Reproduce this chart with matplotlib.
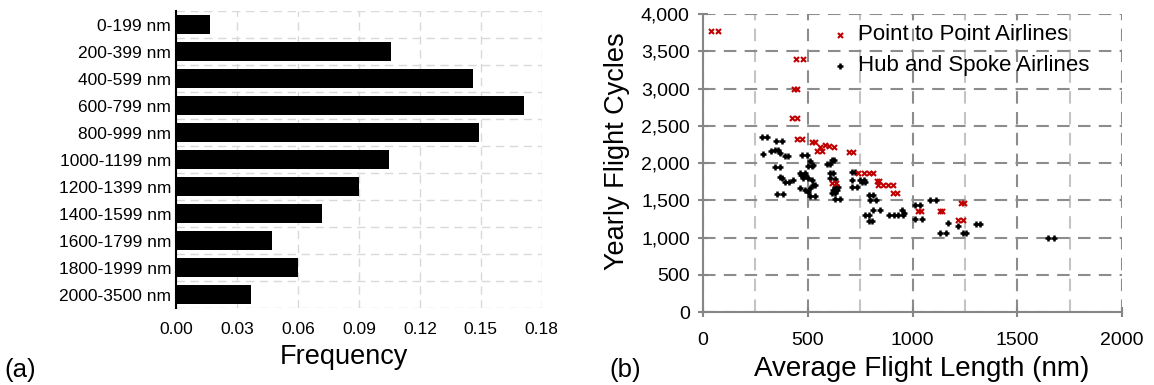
import numpy as np
import matplotlib.pyplot as plt
from matplotlib.ticker import FuncFormatter, MultipleLocator

plt.rcParams['font.family'] = ['Liberation Sans', 'DejaVu Sans']

# (a) flight length histogram
ranges = ['0-199 nm', '200-399 nm', '400-599 nm', '600-799 nm', '800-999 nm',
          '1000-1199 nm', '1200-1399 nm', '1400-1599 nm', '1600-1799 nm',
          '1800-1999 nm', '2000-3500 nm']
freq = [0.0167, 0.106, 0.146, 0.171, 0.149, 0.105, 0.090, 0.072, 0.047, 0.060, 0.037]
freq_ticks = [0.00, 0.03, 0.06, 0.09, 0.12, 0.15, 0.18]

# (b) flight length vs yearly cycles
ptp_x = [37, 73, 444, 479, 435, 450, 424, 450, 447, 471, 519, 535, 559, 583, 599, 623,
         543, 567, 699, 718, 742, 766, 790, 810, 615, 634, 830, 841, 837, 861, 885, 909,
         909, 928, 1231, 1246, 1025, 1040, 1129, 1143, 1219, 1243]
ptp_y = [3775, 3775, 3395, 3395, 2993, 2993, 2605, 2605, 2328, 2328, 2278, 2278, 2216, 2247,
         2224, 2211, 2157, 2157, 2149, 2149, 1868, 1868, 1868, 1868, 1734, 1734, 1755, 1755,
         1702, 1702, 1702, 1702, 1600, 1600, 1457, 1457, 1353, 1353, 1353, 1353, 1233, 1233]

hub_x = [283, 307, 349, 376, 323, 344, 360, 288, 368, 392, 407, 471, 495, 344, 368,
         511, 524, 503, 519, 591, 607, 615, 626, 607, 622, 463, 487, 368, 376, 468, 487,
         479, 503, 519, 392, 412, 428, 527, 463, 487, 511, 535, 503, 352, 381, 511, 535,
         622, 639, 630, 646, 615, 630, 630, 654, 607, 630, 710, 726, 710, 750, 766, 758, 774,
         710, 734, 793, 813, 798, 825, 813, 845, 774, 790, 790, 806, 890, 912, 933, 954,
         949, 957, 1013, 1036, 1084, 1111, 1013, 1044, 1167, 1129, 1159, 1216, 1240, 1256,
         1301, 1323, 1649, 1673]
hub_y = [2345, 2345, 2291, 2291, 2157, 2180, 2180, 2127, 2140, 2100, 2100, 2105, 2105, 1948, 1948,
         2033, 1979, 1966, 1966, 1988, 1988, 2046, 2046, 1868, 1868, 1868, 1868, 1809, 1801, 1845, 1845,
         1801, 1801, 1778, 1747, 1747, 1778, 1711, 1667, 1644, 1658, 1702, 1617, 1587, 1587, 1555, 1555,
         1644, 1644, 1680, 1680, 1600, 1600, 1523, 1523, 1801, 1780, 1876, 1876, 1769, 1769, 1769, 1743, 1743,
         1676, 1676, 1577, 1577, 1501, 1501, 1367, 1367, 1296, 1296, 1220, 1220, 1296, 1296, 1296, 1296,
         1367, 1332, 1443, 1443, 1510, 1510, 1242, 1242, 1198, 1064, 1064, 1153, 1064, 1064,
         1175, 1175, 997, 997]

fig = plt.figure(figsize=(11.54, 3.85), dpi=100)

# ---- left panel
ax1 = fig.add_axes([0.1525, 0.2, 0.317, 0.7714])
pos = np.arange(len(ranges))
ax1.barh(pos, freq, height=0.7, color='black', zorder=3)
ax1.set_ylim(len(ranges) - 0.5, -0.5)
ax1.set_xlim(0, 0.18)
ax1.set_xticks(freq_ticks)
ax1.set_xticklabels(['%.2f' % t for t in freq_ticks])
ax1.set_yticks(pos)
ax1.set_yticklabels(ranges)
ax1.set_yticks(np.arange(-0.5, len(ranges)), minor=True)
ax1.tick_params(axis='both', length=0, labelsize=12.5)
ax1.tick_params(axis='y', which='minor', length=0)
ax1.tick_params(axis='x', pad=10)
ax1.grid(True, axis='x', color='#d9d9d9', linestyle=(0, (6, 4)), linewidth=1, zorder=0)
ax1.grid(True, axis='y', which='minor', color='#d9d9d9', linestyle=(0, (6, 4)), linewidth=1, zorder=0)
for s in ['top', 'right', 'bottom']:
    ax1.spines[s].set_visible(False)
ax1.spines['left'].set_linewidth(1.5)
ax1.set_xlabel('Frequency', fontsize=19.5, va='center')
ax1.xaxis.set_label_coords(0.46, -0.165)
fig.text(0.004, 0.02, '(a)', fontsize=18.5)

# ---- right panel
ax2 = fig.add_axes([0.6092, 0.1896, 0.3631, 0.774])
ax2.scatter(ptp_x, ptp_y, marker='x', s=13, color='#c00000', linewidths=1.5,
            label='Point to Point Airlines', zorder=4)
ax2.scatter(hub_x, hub_y, marker='+', s=22, color='black', linewidths=1.8,
            label='Hub and Spoke Airlines', zorder=3)
ax2.set_xlim(0, 2000)
ax2.set_ylim(0, 4000)
ax2.xaxis.set_major_locator(MultipleLocator(500))
ax2.xaxis.set_minor_locator(MultipleLocator(250))
ax2.yaxis.set_major_locator(MultipleLocator(500))
ax2.yaxis.set_major_formatter(FuncFormatter(lambda v, p: '{:,.0f}'.format(v)))
ax2.grid(True, which='major', color='#8c8c8c', linestyle=(0, (6, 4)), linewidth=1.5, zorder=0)
ax2.grid(True, axis='x', which='minor', color='#c4c4c4', linestyle=(0, (6, 4)), linewidth=1.5, zorder=0)
ax2.tick_params(axis='both', which='major', direction='inout', length=7, width=1.5,
                color='#868686', labelsize=14)
ax2.tick_params(axis='x', which='minor', length=0)
ax2.tick_params(axis='x', pad=11)
ax2.tick_params(axis='y', pad=6)
for s in ['top', 'right']:
    ax2.spines[s].set_visible(False)
for s in ['left', 'bottom']:
    ax2.spines[s].set_color('#868686')
    ax2.spines[s].set_linewidth(1.5)
ax2.set_xlabel('Average Flight Length (nm)', fontsize=20, va='center')
ax2.xaxis.set_label_coords(0.523, -0.19)
ax2.set_ylabel('Yearly Flight Cycles', fontsize=19.5, va='center')
ax2.yaxis.set_label_coords(-0.205, 0.54)
ax2.legend(loc='upper left', bbox_to_anchor=(0.29, 0.995), frameon=False, fontsize=16,
           handlelength=0.6, handletextpad=0.5, labelspacing=0.45, borderaxespad=0.0)
fig.text(0.528, 0.02, '(b)', fontsize=18.5)

fig.savefig('out.png', dpi=100)
